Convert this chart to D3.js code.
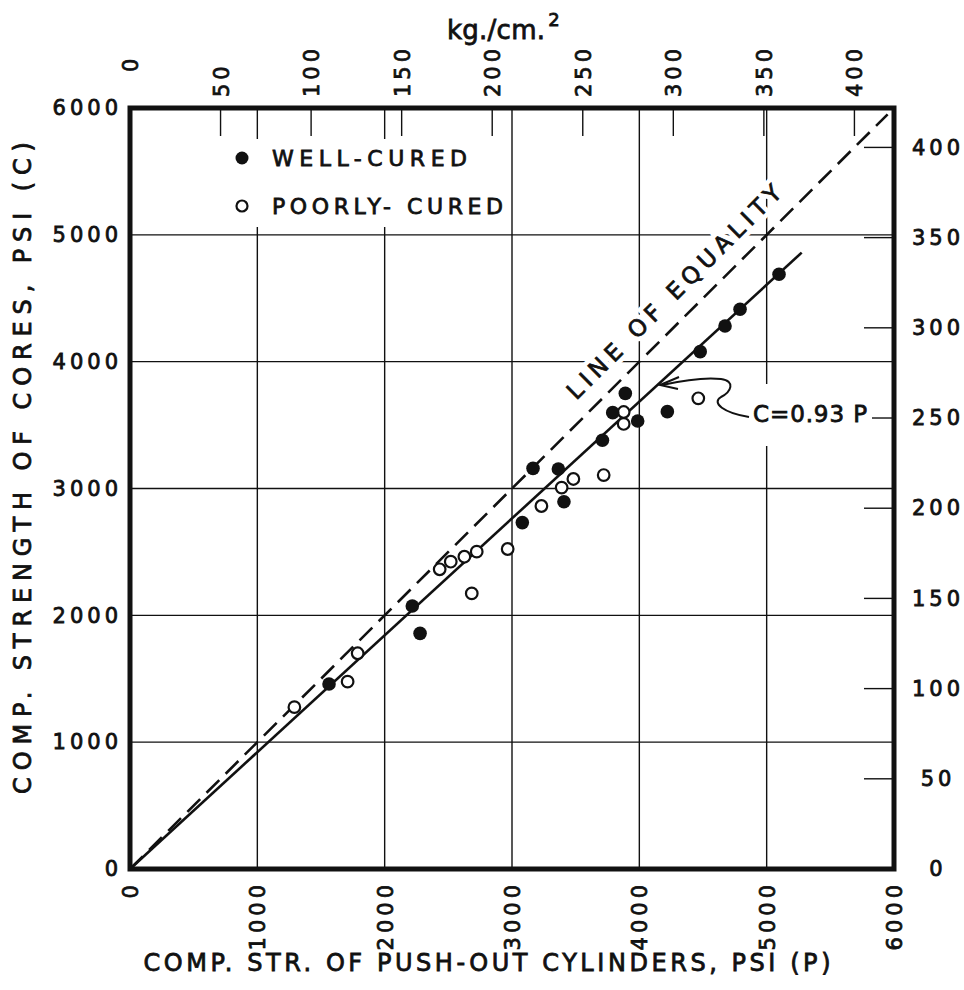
<!DOCTYPE html>
<html><head><meta charset="utf-8">
<script src="https://cdn.jsdelivr.net/npm/d3@7"></script>
<style>body{margin:0;background:#fff}svg{display:block}</style>
</head><body><svg id="c" width="964" height="990"></svg>
<script>
// ---- data ----
const psiTicks = [0, 1000, 2000, 3000, 4000, 5000, 6000];
const gridValues = [1000, 2000, 3000, 4000, 5000];
const kgTicks = [0, 50, 100, 150, 200, 250, 300, 350, 400];
const PSI_PER_KG = 14.223;

const wellX = [1563, 2217, 2278, 3081, 3165, 3364, 3408, 3710, 3791, 3890, 3987, 4220, 4478, 4673, 4791, 5097];
const wellY = [1459, 2074, 1858, 2731, 3159, 3154, 2896, 3380, 3598, 3750, 3532, 3606, 4079, 4281, 4413, 4689];
const poorX = [1291, 1709, 1788, 2432, 2519, 2626, 2723, 2684, 2966, 3231, 3390, 3482, 3720, 3877, 3877, 4463];
const poorY = [1276, 1477, 1701, 2363, 2423, 2462, 2502, 2173, 2523, 2862, 3007, 3075, 3106, 3603, 3509, 3711];

const fitLineX = [0, 5275];
const fitLineY = [0, 4860];
const equalityX = [0, 5950];
const equalityY = [0, 5950];

const legendLabels = ["WELL-CURED", "POORLY- CURED"];
const xTitle = "COMP. STR. OF PUSH-OUT  CYLINDERS, PSI (P)";
const yTitle = "COMP. STRENGTH OF CORES, PSI (C)";
const topTitle = "kg./cm.";
const equalityLabel = "LINE OF EQUALITY";
const fitLabel = "C=0.93 P";

// ---- layout ----
const L = 130, R = 894, T = 108, B = 869;
const INK = "#111";
const FONT = "'DejaVu Sans', Verdana, sans-serif";
const TS = 0.8; // text stroke thickening

const svg = d3.select("#c");
svg.append("rect").attr("width", 964).attr("height", 990).attr("fill", "#fff");

const x = d3.scaleLinear().domain([0, 6000]).range([L, R]);
const y = d3.scaleLinear().domain([0, 6000]).range([B, T]);
const xk = d3.scaleLinear().domain([0, 6000 / PSI_PER_KG]).range([L, R]);
const yk = d3.scaleLinear().domain([0, 6000 / PSI_PER_KG]).range([B, T]);

// grid
const grid = svg.append("g").attr("stroke", INK).attr("stroke-width", 1.4);
grid.selectAll(".gv").data(gridValues).join("line")
  .attr("x1", d => x(d)).attr("x2", d => x(d)).attr("y1", T).attr("y2", B);
grid.selectAll(".gh").data(gridValues).join("line")
  .attr("y1", d => y(d)).attr("y2", d => y(d)).attr("x1", L).attr("x2", R);

// top (kg) ticks inward and right (kg) ticks inward
const kt = kgTicks.filter(d => d > 0);
grid.selectAll(".tt").data(kt).join("line")
  .attr("x1", d => xk(d)).attr("x2", d => xk(d)).attr("y1", T).attr("y2", T + 28);
grid.selectAll(".rt").data(kt).join("line")
  .attr("y1", d => yk(d)).attr("y2", d => yk(d)).attr("x1", R - 30).attr("x2", R);

// legend mask
svg.append("rect").attr("x", 214).attr("y", 139).attr("width", 294).attr("height", 88).attr("fill", "#fff");
// fit label mask
svg.append("rect").attr("x", 742).attr("y", 384).attr("width", 130).attr("height", 62).attr("fill", "#fff");

// line of equality label (white halo masking grid, then ink)
const ang = -Math.atan2(B - T, R - L) * 180 / Math.PI;
function eqText(halo) {
  svg.append("text")
    .attr("transform", `translate(674,292) rotate(${ang})`)
    .attr("text-anchor", "middle").attr("dominant-baseline", "central")
    .attr("font-family", FONT).attr("font-size", 23)
    .attr("fill", halo ? "#fff" : INK)
    .attr("stroke", halo ? "#fff" : INK).attr("stroke-width", halo ? 10 : TS)
    .attr("textLength", 292).attr("lengthAdjust", "spacing")
    .text(equalityLabel);
}
eqText(true); eqText(false);

// lines
const line = d3.line().x(d => x(d[0])).y(d => y(d[1]));
svg.append("path").datum(equalityX.map((v, i) => [v, equalityY[i]]))
  .attr("d", line).attr("fill", "none").attr("stroke", INK)
  .attr("stroke-width", 2.6).attr("stroke-dasharray", "18,9");
svg.append("path").datum(fitLineX.map((v, i) => [v, fitLineY[i]]))
  .attr("d", line).attr("fill", "none").attr("stroke", INK).attr("stroke-width", 2.6);

// points
svg.append("g").selectAll("circle").data(poorX.map((v, i) => [v, poorY[i]])).join("circle")
  .attr("cx", d => x(d[0])).attr("cy", d => y(d[1])).attr("r", 5.8)
  .attr("fill", "#fff").attr("stroke", INK).attr("stroke-width", 2.2);
svg.append("g").selectAll("circle").data(wellX.map((v, i) => [v, wellY[i]])).join("circle")
  .attr("cx", d => x(d[0])).attr("cy", d => y(d[1])).attr("r", 6.8)
  .attr("fill", INK);

// frame
svg.append("rect").attr("x", L).attr("y", T).attr("width", R - L).attr("height", B - T)
  .attr("fill", "none").attr("stroke", INK).attr("stroke-width", 5);

// axes labels
function styleAxis(g) {
  g.select(".domain").remove();
  g.selectAll("text").attr("font-family", FONT).attr("font-size", 21)
    .attr("fill", INK).attr("stroke", INK).attr("stroke-width", TS)
    .attr("letter-spacing", 4);
}
const fmt = d3.format("d");
// bottom
svg.append("g").attr("transform", `translate(0,${B})`)
  .call(d3.axisBottom(x).tickValues(psiTicks).tickSize(0).tickFormat(fmt))
  .call(styleAxis)
  .selectAll("text").attr("transform", "rotate(-90)")
  .attr("text-anchor", "end").attr("x", -12).attr("y", 0).attr("dy", "0.36em");
// left
svg.append("g").attr("transform", `translate(${L},0)`)
  .call(d3.axisLeft(y).tickValues(psiTicks).tickSize(0).tickFormat(fmt).tickPadding(8))
  .call(styleAxis);
// top (kg)
svg.append("g").attr("transform", `translate(0,${T})`)
  .call(d3.axisTop(xk).tickValues(kgTicks).tickSize(0).tickFormat(fmt))
  .call(styleAxis)
  .selectAll("text").attr("transform", "rotate(-90)")
  .attr("text-anchor", "start").attr("x", d => d === 0 ? 36 : 11).attr("y", 0).attr("dy", "0.36em");
// right (kg)
svg.append("g").attr("transform", `translate(${R},0)`)
  .call(d3.axisRight(yk).tickValues(kgTicks).tickSize(0).tickFormat(fmt))
  .call(styleAxis)
  .selectAll("text").attr("text-anchor", "middle").attr("x", 44);

function ink(sel) { return sel.attr("font-family", FONT).attr("fill", INK).attr("stroke", INK).attr("stroke-width", TS); }

// titles
svg.append("text").attr("x", 487).attr("y", 971).attr("text-anchor", "middle")
  .call(ink).attr("font-size", 24)
  .attr("textLength", 687).attr("lengthAdjust", "spacing").text(xTitle);
svg.append("text").attr("transform", "translate(31,468) rotate(-90)").attr("text-anchor", "middle")
  .call(ink).attr("font-size", 24)
  .attr("textLength", 652).attr("lengthAdjust", "spacing").text(yTitle);
const tt = svg.append("text").attr("x", 447).attr("y", 39).call(ink).attr("font-size", 26);
tt.append("tspan").attr("textLength", 98).attr("lengthAdjust", "spacing").text(topTitle);
tt.append("tspan").attr("font-size", 18).attr("dy", -13).attr("dx", 3).text("2");

// legend
const legY = [158, 206];
svg.append("circle").attr("cx", 242).attr("cy", legY[0]).attr("r", 6.5).attr("fill", INK);
svg.append("circle").attr("cx", 242).attr("cy", legY[1]).attr("r", 5.5).attr("fill", "#fff")
  .attr("stroke", INK).attr("stroke-width", 2.2);
svg.selectAll(".leg").data(legendLabels).join("text")
  .attr("x", 272).attr("y", (d, i) => legY[i]).attr("dy", "0.36em")
  .call(ink).attr("font-size", 22)
  .attr("textLength", (d, i) => [195, 231][i]).attr("lengthAdjust", "spacing")
  .text(d => d);

// fit label + leader arrow
svg.append("text").attr("x", 753).attr("y", 414).attr("dy", "0.36em")
  .call(ink).attr("font-size", 23)
  .attr("textLength", 114).attr("lengthAdjust", "spacing").text(fitLabel);
svg.append("path")
  .attr("d", "M662,385 C680,381 704,377 721,379 C736,381 731,392 721,397 C711,403 724,413 749,417")
  .attr("fill", "none").attr("stroke", INK).attr("stroke-width", 2);
svg.append("path").attr("d", "M679,377 L660,385 L678,389")
  .attr("fill", "none").attr("stroke", INK).attr("stroke-width", 2);
</script></body></html>
